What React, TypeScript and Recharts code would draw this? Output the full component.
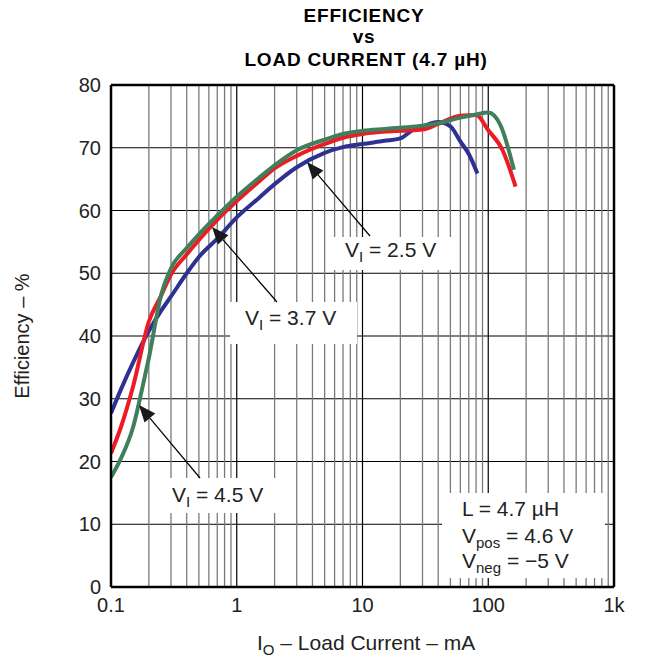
import { ComposedChart, Line, XAxis, YAxis, CartesianGrid, ReferenceLine } from 'recharts';

// load current (mA) and efficiency (%) per input voltage
const current25 = [0.1, 0.12, 0.15, 0.2, 0.25, 0.3, 0.4, 0.5, 0.7, 1, 1.5, 2, 3, 5, 7, 10, 15, 20, 25, 30, 40, 50, 60, 70, 82];
const eff25 = [27.7, 31.5, 35.8, 40.8, 44, 46.3, 50, 52.6, 55.5, 58.9, 62, 64.2, 66.9, 69.2, 70.1, 70.6, 71.1, 71.5, 72.8, 73.4, 74.1, 73.4, 71, 69, 65.9];

const current37 = [0.1, 0.12, 0.15, 0.2, 0.25, 0.3, 0.4, 0.5, 0.7, 1, 1.5, 2, 3, 5, 7, 10, 20, 30, 40, 60, 80, 100, 130, 165];
const eff37 = [21.3, 25.5, 32, 42.3, 46.4, 49.8, 53, 55.3, 58.5, 61.5, 64.6, 66.7, 68.7, 70.6, 71.6, 72.2, 72.7, 72.9, 73.8, 75.1, 75.2, 72.8, 69.6, 63.8];

const current45 = [0.1, 0.12, 0.15, 0.18, 0.2, 0.25, 0.3, 0.4, 0.5, 0.7, 1, 1.5, 2, 3, 5, 7, 10, 15, 20, 30, 40, 60, 80, 100, 125, 160];
const eff45 = [17.5, 20.5, 25.5, 32.3, 36.5, 46.5, 50.8, 54, 56.2, 59.2, 62.2, 65.2, 67.2, 69.6, 71.3, 72.2, 72.7, 73, 73.2, 73.5, 73.9, 74.8, 75.3, 75.6, 73.6, 66.5];

const majorTicks = [0.1, 1, 10, 100, 1000];
const minorTicks = [0.1, 1, 10, 100].flatMap((d) => [2, 3, 4, 5, 6, 7, 8, 9].map((m) => +(d * m).toPrecision(3)));
const yTicks = [0, 10, 20, 30, 40, 50, 60, 70, 80];

const series = [
  { name: '2.5 V', color: '#2e3192', data: current25.map((c, i) => ({ current: c, eff: eff25[i] })) },
  { name: '3.7 V', color: '#ed1c24', data: current37.map((c, i) => ({ current: c, eff: eff37[i] })) },
  { name: '4.5 V', color: '#3f7f5c', data: current45.map((c, i) => ({ current: c, eff: eff45[i] })) },
];

const FONT = '"Liberation Sans", Arial, Helvetica, sans-serif';

function Arrow({ tip, tail }: { tip: [number, number]; tail: [number, number] }) {
  const dx = tail[0] - tip[0];
  const dy = tail[1] - tip[1];
  const len = Math.hypot(dx, dy);
  const ux = dx / len;
  const uy = dy / len;
  const L = 17;
  const W = 7;
  const bx = tip[0] + ux * L;
  const by = tip[1] + uy * L;
  const pts = `${tip[0]},${tip[1]} ${bx - uy * W},${by + ux * W} ${bx + uy * W},${by - ux * W}`;
  return (
    <g>
      <line x1={bx} y1={by} x2={tail[0]} y2={tail[1]} stroke="#000" strokeWidth={1.2} />
      <polygon points={pts} fill="#1a1a1a" />
    </g>
  );
}

function VLabel({ x, y, sub, rest }: { x: number; y: number; sub: string; rest: string }) {
  return (
    <text x={x} y={y} fontSize={21} fontFamily={FONT} fill="#222">
      V
      <tspan fontSize={15} dy={5}>{sub}</tspan>
      <tspan dy={-5}>{rest}</tspan>
    </text>
  );
}

export default function App() {
  return (
    <div style={{ position: 'relative', width: 645, height: 657, background: '#fff', fontFamily: FONT }}>
      <style>{'body{margin:0}'}</style>
      <ComposedChart width={645} height={657} margin={{ top: 85, right: 31, bottom: 40, left: 51 }}>
        <CartesianGrid vertical={false} stroke="#000" strokeWidth={1} strokeOpacity={1} />
        {minorTicks.map((t) => (
          <ReferenceLine key={'m' + t} x={t} stroke="#7a7a7a" strokeWidth={1.3} />
        ))}
        {majorTicks.map((t) => (
          <ReferenceLine key={'M' + t} x={t} stroke="#000" strokeWidth={1.2} />
        ))}
        <ReferenceLine y={80} stroke="#000" strokeWidth={2.5} />
        <ReferenceLine x={1000} stroke="#000" strokeWidth={2.5} />
        <XAxis
          dataKey="current"
          type="number"
          scale="log"
          domain={[0.1, 1000]}
          ticks={majorTicks}
          allowDataOverflow
          height={30}
          tickLine={false}
          tickSize={0}
          tickMargin={11}
          axisLine={{ stroke: '#000', strokeWidth: 2.5 }}
          tick={{ fill: '#222', fontSize: 20, fontFamily: FONT }}
          tickFormatter={(v: number) => (v === 1000 ? '1k' : String(v))}
        />
        <YAxis
          type="number"
          domain={[0, 80]}
          ticks={yTicks}
          width={60}
          tickLine={false}
          tickSize={0}
          tickMargin={10}
          axisLine={{ stroke: '#000', strokeWidth: 2.5 }}
          tick={{ fill: '#222', fontSize: 20, fontFamily: FONT }}
        />
        {series.map((s) => (
          <Line
            key={s.name}
            data={s.data}
            dataKey="eff"
            name={s.name}
            type="monotone"
            stroke={s.color}
            strokeWidth={4}
            dot={false}
            isAnimationActive={false}
          />
        ))}
      </ComposedChart>

      <svg width={645} height={657} style={{ position: 'absolute', left: 0, top: 0, pointerEvents: 'none' }}>
        <g fontFamily={FONT} fontWeight="bold" fontSize={19} letterSpacing={0.8} textAnchor="middle" fill="#000">
          <text x={364} y={22}>EFFICIENCY</text>
          <text x={364} y={43}>vs</text>
          <text x={366} y={66}>LOAD CURRENT (4.7 µH)</text>
        </g>
        <text
          x={0}
          y={0}
          transform="translate(29,336) rotate(-90)"
          textAnchor="middle"
          fontSize={20}
          fontFamily={FONT}
          fill="#222"
        >
          Efficiency – %
        </text>
        <text x={257} y={650} fontSize={21} fontFamily={FONT} fill="#222">
          I<tspan fontSize={15} dy={5}>O</tspan>
          <tspan dy={-5}> – Load Current – mA</tspan>
        </text>

        <rect x={330} y={237} width={124} height={33} fill="#fff" />
        <rect x={230} y={302} width={127} height={42} fill="#fff" />
        <rect x={150} y={478} width={129} height={35} fill="#fff" />
        <rect x={442} y={493} width={163} height={85} fill="#fff" />

        <Arrow tip={[307, 162]} tail={[370, 236]} />
        <Arrow tip={[212, 227]} tail={[277, 302]} />
        <Arrow tip={[139, 405]} tail={[200, 478]} />

        <VLabel x={345} y={257} sub="I" rest=" = 2.5 V" />
        <VLabel x={245} y={325} sub="I" rest=" = 3.7 V" />
        <VLabel x={172} y={502} sub="I" rest=" = 4.5 V" />

        <text x={462} y={516} fontSize={21} fontFamily={FONT} fill="#222">L = 4.7 µH</text>
        <VLabel x={462} y={543} sub="pos" rest=" = 4.6 V" />
        <VLabel x={462} y={568} sub="neg" rest=" = −5 V" />
      </svg>
    </div>
  );
}
